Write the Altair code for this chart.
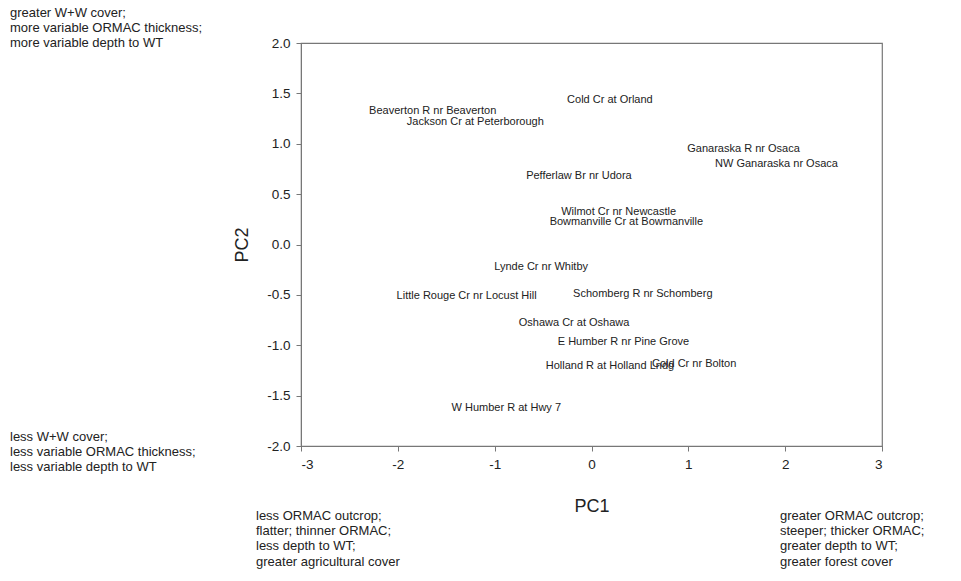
import altair as alt
import pandas as pd

names = [
    "Beaverton R nr Beaverton", "Jackson Cr at Peterborough", "Cold Cr at Orland",
    "Ganaraska R nr Osaca", "NW Ganaraska nr Osaca", "Pefferlaw Br nr Udora",
    "Wilmot Cr nr Newcastle", "Bowmanville Cr at Bowmanville", "Lynde Cr nr Whitby",
    "Little Rouge Cr nr Locust Hill", "Schomberg R nr Schomberg", "Oshawa Cr at Oshawa",
    "E Humber R nr Pine Grove", "Holland R at Holland Lndg", "Cold Cr nr Bolton",
    "W Humber R at Hwy 7",
]
pc1 = [-1.64, -1.20, 0.19, 1.57, 1.91, -0.13, 0.28, 0.36, -0.52, -1.29, 0.53, -0.18,
       0.33, 0.19, 1.06, -0.88]
pc2 = [1.33, 1.22, 1.43, 0.95, 0.80, 0.68, 0.32, 0.22, -0.22, -0.51, -0.49, -0.78,
       -0.97, -1.21, -1.19, -1.62]

x_ticks = [-3, -2, -1, 0, 1, 2, 3]
y_ticks = [-2.0, -1.5, -1.0, -0.5, 0.0, 0.5, 1.0, 1.5, 2.0]

note_top_left = ["greater W+W cover;", "more variable ORMAC thickness;", "more variable depth to WT"]
note_bottom_left = ["less W+W cover;", "less variable ORMAC thickness;", "less variable depth to WT"]
note_x_low = ["less ORMAC outcrop;", "flatter; thinner ORMAC;", "less depth to WT;", "greater agricultural cover"]
note_x_high = ["greater ORMAC outcrop;", "steeper; thicker ORMAC;", "greater depth to WT;", "greater forest cover"]

df = pd.DataFrame({"name": names, "pc1": pc1, "pc2": pc2})

FONT = "Liberation Sans"
TXT = "#222222"
HYPHEN = "replace(datum.label, '\u2212', '-')"

labels = alt.Chart(df).mark_text(font=FONT, fontSize=11, color=TXT).encode(
    x=alt.X("pc1:Q", scale=alt.Scale(domain=[-3, 3], nice=False, zero=False),
            axis=alt.Axis(values=x_ticks, format="d", labelExpr=HYPHEN, title="PC1",
                          labelPadding=6, titlePadding=27)),
    y=alt.Y("pc2:Q", scale=alt.Scale(domain=[-2, 2], nice=False, zero=False),
            axis=alt.Axis(values=y_ticks, format=".1f", labelExpr=HYPHEN, title="PC2",
                          labelPadding=6, titlePadding=15)),
    text="name:N",
)

one = pd.DataFrame({"k": [0]})


def note(lines, px, py):
    return alt.Chart(one).mark_text(
        text=lines, font=FONT, fontSize=13, color=TXT, align="left",
        baseline="middle", lineHeight=15.2
    ).encode(x=alt.value(px), y=alt.value(py))


chart = alt.layer(
    labels,
    note(note_top_left, -291, -30),
    note(note_bottom_left, -291, 394),
    note(note_x_low, -45, 473),
    note(note_x_high, 479, 473),
).properties(
    width=581, height=403,
    autosize=alt.AutoSizeParams(type="none"),
    padding={"left": 293, "top": 35, "right": 70, "bottom": 130},
).configure_view(
    stroke="#777777", strokeWidth=1.2
).configure_axis(
    grid=False, domainColor="#777777", tickColor="#777777", tickSize=5,
    labelFont=FONT, labelFontSize=13.5, labelColor=TXT,
    titleFont=FONT, titleFontSize=18, titleFontWeight="normal", titleColor=TXT,
)

chart.save("out.html", embed_options={"renderer": "svg", "actions": False})
